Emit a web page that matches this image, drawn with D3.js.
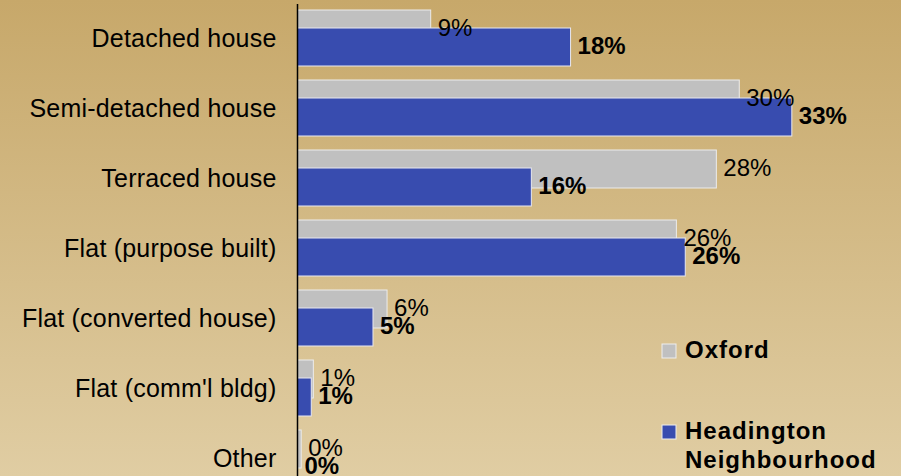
<!DOCTYPE html>
<html>
<head>
<meta charset="utf-8">
<script src="https://cdn.jsdelivr.net/npm/d3@7"></script>
<style>
  body { margin: 0; padding: 0; overflow: hidden; }
  svg { display: block; font-family: "Liberation Sans", Arial, sans-serif; }
</style>
</head>
<body>
<div id="chart"></div>
<script>
// dwelling types, top to bottom
const categories = ["Detached house", "Semi-detached house", "Terraced house",
    "Flat (purpose built)", "Flat (converted house)", "Flat (comm'l bldg)", "Other"];

// percentages
const oxfordValues = [9.0, 29.85, 28.3, 25.6, 6.05, 1.07, 0.25];
const headingtonValues = [18.45, 33.4, 15.8, 26.2, 5.1, 0.93, 0.0];

const seriesNames = ["Oxford", "Headington Neighbourhood"];
const seriesColors = ["#c0c0c0", "#384caf"];

const width = 901, height = 476;

let svg = d3.select("#chart").append("svg")
    .attr("width", width)
    .attr("height", height);

// background gradient
let defs = svg.append("defs");
let grad = defs.append("linearGradient")
    .attr("id", "bg")
    .attr("x1", 0).attr("y1", 0).attr("x2", 0).attr("y2", 1);
grad.append("stop").attr("offset", "0%").attr("stop-color", "#c7a86a");
grad.append("stop").attr("offset", "100%").attr("stop-color", "#e0cda3");
svg.append("rect")
    .attr("width", width).attr("height", height)
    .attr("fill", "url(#bg)");

// scales
let x = d3.scaleLinear().domain([0, 40]).range([297.5, 297.5 + 592]);
let y = d3.scaleBand().domain(categories).range([3, 493])
    .paddingInner(0.2).paddingOuter(0.1);
let bw = y.bandwidth();
let barH = bw * 38 / 56;
let blueOff = bw - barH;

let rows = categories.map((c, i) => ({cat: c, ox: oxfordValues[i], hd: headingtonValues[i]}));

// oxford bars (behind)
svg.append("g").selectAll("rect")
    .data(rows).enter().append("rect")
    .attr("x", x(0))
    .attr("y", d => y(d.cat))
    .attr("width", d => x(d.ox) - x(0))
    .attr("height", barH)
    .attr("fill", seriesColors[0])
    .attr("stroke", "#ececec")
    .attr("stroke-width", 1);

// headington bars (front, overlapping)
svg.append("g").selectAll("rect")
    .data(rows).enter().append("rect")
    .attr("x", x(0))
    .attr("y", d => y(d.cat) + blueOff)
    .attr("width", d => x(d.hd) - x(0))
    .attr("height", barH)
    .attr("fill", seriesColors[1])
    .attr("stroke", "#e8e8f0")
    .attr("stroke-width", 1);

// value labels
let fmt = v => Math.round(v) + "%";
svg.append("g").selectAll("text")
    .data(rows).enter().append("text")
    .attr("x", d => x(d.ox) + 7)
    .attr("y", d => y(d.cat) + barH / 2 + 6.5)
    .attr("font-size", 24)
    .attr("fill", "#000")
    .text(d => fmt(d.ox));

svg.append("g").selectAll("text")
    .data(rows).enter().append("text")
    .attr("x", d => x(d.hd) + 7)
    .attr("y", d => y(d.cat) + blueOff + barH / 2 + 7)
    .attr("font-size", 24)
    .attr("font-weight", "bold")
    .attr("fill", "#000")
    .text(d => fmt(d.hd));

// category axis
let axis = svg.append("g")
    .attr("transform", "translate(" + x(0) + ",0)")
    .call(d3.axisLeft(y).tickSize(0).tickPadding(21));
axis.select(".domain")
    .attr("d", "M0,4V" + height + 10)
    .attr("stroke", "#000")
    .attr("stroke-width", 1.5);
axis.selectAll(".tick text")
    .attr("font-size", 25)
    .attr("font-family", "Liberation Sans, Arial, sans-serif")
    .attr("letter-spacing", 0.2)
    .attr("fill", "#000")
    .attr("dy", 9);

// legend
let legend = svg.append("g").attr("transform", "translate(662,344)");
let legendRows = [
    {name: "Oxford", lines: ["Oxford"], color: seriesColors[0], dy: 0},
    {name: seriesNames[1], lines: ["Headington", "Neighbourhood"], color: seriesColors[1], dy: 81}
];
legendRows.forEach(r => {
    legend.append("rect")
        .attr("x", 0).attr("y", r.dy)
        .attr("width", 14).attr("height", 14)
        .attr("fill", r.color)
        .attr("stroke", "#eeeeee")
        .attr("stroke-width", 1);
    r.lines.forEach((t, j) => {
        legend.append("text")
            .attr("x", 23)
            .attr("y", r.dy + 14 + j * 29)
            .attr("font-size", 24)
            .attr("font-weight", "bold")
            .attr("letter-spacing", 1)
            .text(t);
    });
});
</script>
</body>
</html>
